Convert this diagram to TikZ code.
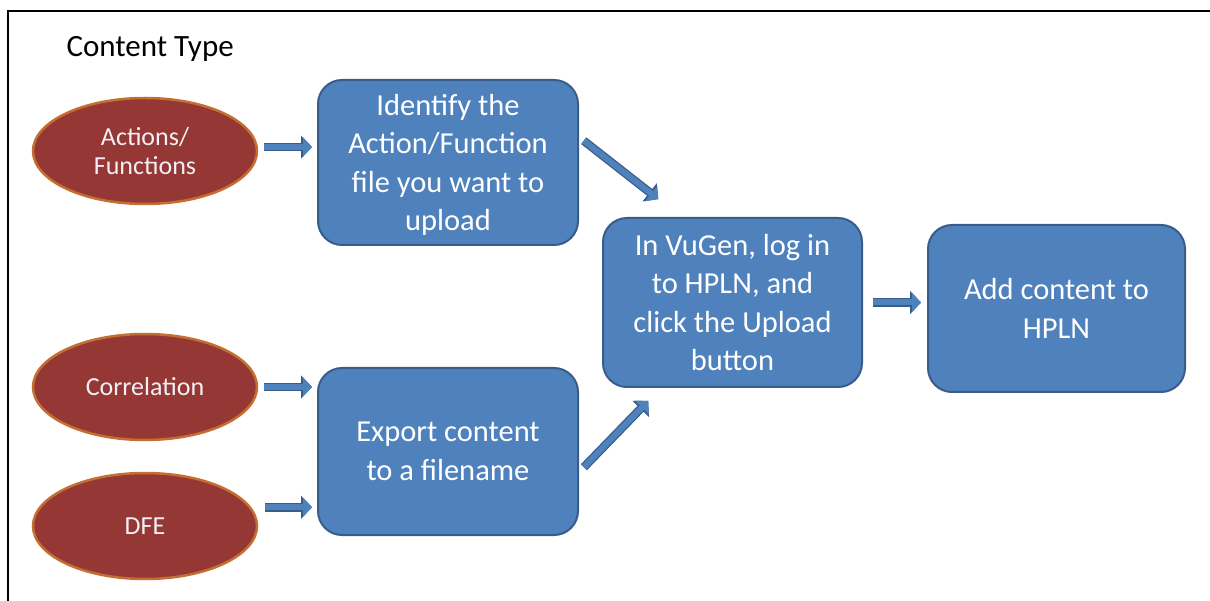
\documentclass[tikz,border=0pt]{standalone}
\usepackage{fontspec}
\setmainfont{Carlito}
\usetikzlibrary{shapes.geometric,arrows.meta}
\definecolor{boxfill}{RGB}{79,129,189}
\definecolor{boxedge}{RGB}{56,93,138}
\definecolor{ellfill}{RGB}{149,55,53}
\definecolor{elledge}{RGB}{196,110,50}
\definecolor{elltext}{RGB}{242,240,245}
\begin{document}
\begin{tikzpicture}[x=1pt,y=-1pt,
  stepbox/.style={draw=boxedge, line width=2pt, fill=boxfill, rounded corners=24pt, text=white, align=center, font=\fontsize{30.5}{38.5}\selectfont, inner sep=0pt},
  ctype/.style={ellipse, draw=elledge, line width=2.5pt, fill=ellfill, text=elltext, align=center, font=\fontsize{26}{29.5}\selectfont, minimum width=224pt, minimum height=106pt, inner sep=0pt},
  blockarrow/.style={draw=boxfill, line width=6pt, -{Triangle[length=9pt,width=19pt]},
    preaction={draw=boxedge, line width=8.5pt, -{Triangle[length=11pt,width=22.5pt]}}},
]
\useasboundingbox (0,0) rectangle (1210,601);
\draw[line width=2.5pt] (8,601) -- (8,11) -- (1210,11);

\node[anchor=base west, font=\fontsize{31}{37}\selectfont] (title) at (63,57) {Content Type};

\node[ctype] (e1) at (145,151) {Actions/\\Functions};
\node[ctype] (e2) at (145,387) {Correlation};
\node[ctype] (e3) at (145,526) {DFE};

\node[stepbox, minimum width=260pt, minimum height=165pt, text depth=-6pt] (b1) at (448,162.5) {Identify the\\Action/Function\\file you want to\\upload};
\node[stepbox, minimum width=260pt, minimum height=167pt] (b2) at (448,451.5) {Export content\\to a filename};
\node[stepbox, minimum width=259pt, minimum height=169pt] (b3) at (732.5,302.5) {In VuGen, log in\\to HPLN, and\\click the Upload\\button};
\node[stepbox, minimum width=257pt, minimum height=167pt] (b4) at (1056.5,308.5) {Add content to\\HPLN};

\draw[blockarrow, shorten <=6pt, shorten >=5pt] (e1.2) -- (e1.2 -| b1.west);
\draw[blockarrow, shorten <=6pt, shorten >=5pt] (e2.east) -- (e2.east -| b2.west);
\draw[blockarrow, shorten <=14pt, shorten >=5pt] (e3.10) -- (e3.10 -| b2.west);
\draw[blockarrow, shorten <=6pt, shorten >=29pt] (b1.11) -- (b3.121);
\draw[blockarrow, shorten <=7pt, shorten >=18pt] (b2.-9) -- (b3.230);
\draw[blockarrow, shorten <=10pt, shorten >=6pt] (b3.east) -- (b3.east -| b4.west);
\end{tikzpicture}
\end{document}
